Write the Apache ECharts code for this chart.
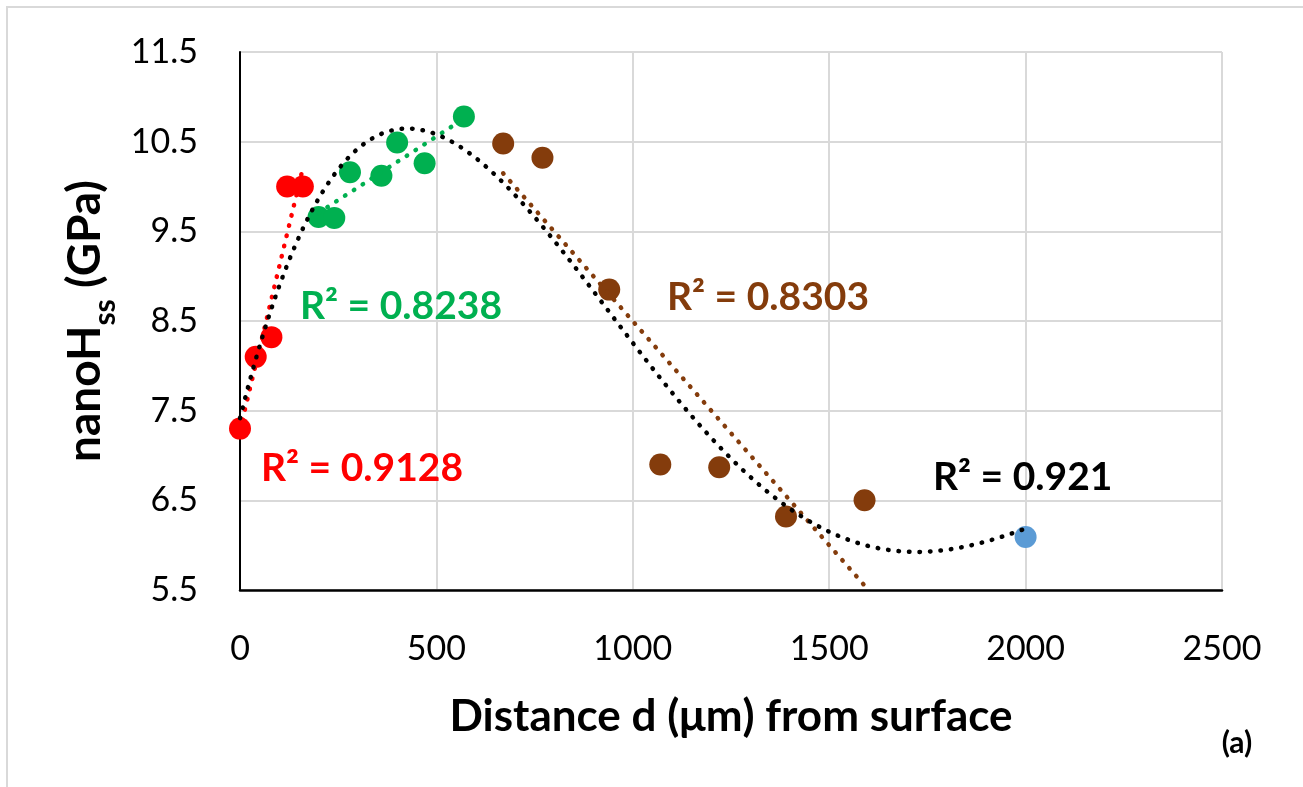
<!DOCTYPE html>
<html>
<head>
<meta charset="utf-8">
<script src="https://cdn.jsdelivr.net/npm/echarts@6/dist/echarts.min.js"></script>
<style>
  html, body { margin: 0; padding: 0; background: #fff; }
  #chart { width: 1303px; height: 787px; }
</style>
</head>
<body>
<div id="chart"></div>
<script>
// distance from surface (um) / nanoH_ss (GPa), one pair of arrays per fitted group
const redX = [0, 40, 80, 120, 160];
const redY = [7.3, 8.1, 8.32, 10.0, 10.0];
const greenX = [200, 240, 280, 360, 400, 470, 570];
const greenY = [9.66, 9.65, 10.16, 10.12, 10.49, 10.26, 10.78];
const brownX = [670, 770, 940, 1070, 1220, 1390, 1590];
const brownY = [10.48, 10.32, 8.85, 6.90, 6.87, 6.32, 6.50];
const blueX = [2000];
const blueY = [6.09];

const yTicks = [5.5, 6.5, 7.5, 8.5, 9.5, 10.5, 11.5];
const r2Text = ['R² = 0.9128', 'R² = 0.8238', 'R² = 0.8303', 'R² = 0.921'];

const FONT = 'Lato, "Open Sans", sans-serif';

// least squares polynomial fit (what the excel trendlines are)
function polyFit(xs, ys, order) {
    let n = order + 1;
    let A = [], b = [];
    for (let i = 0; i < n; i++) { A.push(new Array(n).fill(0)); b.push(0); }
    xs.forEach((x0, k) => {
        let x = x0 / 1000;
        for (let i = 0; i < n; i++) {
            b[i] += ys[k] * Math.pow(x, i);
            for (let j = 0; j < n; j++) A[i][j] += Math.pow(x, i + j);
        }
    });
    for (let c = 0; c < n; c++) {
        let p = c;
        for (let r = c + 1; r < n; r++) if (Math.abs(A[r][c]) > Math.abs(A[p][c])) p = r;
        [A[c], A[p]] = [A[p], A[c]];
        [b[c], b[p]] = [b[p], b[c]];
        for (let r = c + 1; r < n; r++) {
            let f = A[r][c] / A[c][c];
            for (let j = c; j < n; j++) A[r][j] -= f * A[c][j];
            b[r] -= f * b[c];
        }
    }
    let coef = new Array(n).fill(0);
    for (let r = n - 1; r >= 0; r--) {
        let s = b[r];
        for (let j = r + 1; j < n; j++) s -= A[r][j] * coef[j];
        coef[r] = s / A[r][r];
    }
    return x0 => coef.reduce((s, c, i) => s + c * Math.pow(x0 / 1000, i), 0);
}

function trend(xs, ys, order, step) {
    let f = polyFit(xs, ys, order);
    let lo = Math.min(...xs), hi = Math.max(...xs);
    let pts = [];
    if (!step) return [[lo, f(lo)], [hi, f(hi)]];
    for (let x = lo; x <= hi + 0.001; x += step) pts.push([x, f(x)]);
    return pts;
}

const pair = (xs, ys) => xs.map((x, i) => [x, ys[i]]);

const allX = [].concat(redX, greenX, brownX, blueX);
const allY = [].concat(redY, greenY, brownY, blueY);

function dots(name, color, data) {
    return {
        name: name, type: 'scatter', data: data,
        symbolSize: 22, itemStyle: { color: color, opacity: 1 }, z: 2
    };
}

function dotted(name, color, data) {
    return {
        name: name, type: 'line', data: data, showSymbol: false, silent: true,
        smooth: false, z: 3,
        lineStyle: { color: color, width: 4.5, type: [0.5, 10], cap: 'round' }
    };
}

function r2(text, color, x, y) {
    return {
        type: 'text', x: x, y: y, z: 10,
        style: { text: text, fill: color, font: 'bold 39px ' + FONT, verticalAlign: 'middle' }
    };
}

let chart = echarts.init(document.getElementById('chart'));

let option = {
    animation: false,
    backgroundColor: '#fff',
    textStyle: { fontFamily: FONT },
    grid: { left: 240, right: 81, top: 52, bottom: 197 },
    xAxis: {
        type: 'value', min: 0, max: 2500, interval: 500,
        name: 'Distance d (μm) from surface',
        nameLocation: 'middle', nameGap: 105,
        nameTextStyle: { fontSize: 44, fontWeight: 'bold', color: '#000', fontFamily: FONT },
        axisLine: { show: true, onZero: false, lineStyle: { color: '#000', width: 2.5 } },
        axisTick: { show: false },
        axisLabel: { fontSize: 34, color: '#000', margin: 42, fontFamily: FONT, formatter: v => String(v) },
        splitLine: { show: true, lineStyle: { color: '#d9d9d9', width: 2 } }
    },
    yAxis: {
        type: 'value', min: 5.5, max: 11.5,
        name: '{a|nanoH}{s|ss}{a| (GPa)}',
        nameLocation: 'middle', nameGap: 100, nameRotate: 90,
        nameTextStyle: {
            rich: {
                a: { fontSize: 46, fontWeight: 'bold', color: '#000', fontFamily: FONT },
                s: { fontSize: 30, fontWeight: 'bold', color: '#000', fontFamily: FONT, padding: [40, 0, 0, 0] }
            }
        },
        axisLine: { show: true, lineStyle: { color: '#000', width: 2 } },
        axisTick: { show: false, customValues: yTicks },
        axisLabel: { fontSize: 34, color: '#000', margin: 42, fontFamily: FONT, customValues: yTicks },
        splitLine: { show: true, lineStyle: { color: '#d9d9d9', width: 2 } }
    },
    graphic: [
        {
            type: 'rect', z: -1, silent: true,
            shape: { x: 7, y: 7, width: 1310, height: 800 },
            style: { fill: 'none', stroke: '#d9d9d9', lineWidth: 2 }
        },
        r2(r2Text[0], '#ff0000', 261, 468),
        r2(r2Text[1], '#00b050', 300, 306),
        r2(r2Text[2], '#843c0c', 667, 297),
        r2(r2Text[3], '#000000', 933, 477),
        {
            type: 'text', x: 1237, y: 743, z: 10,
            style: { text: '(a)', fill: '#000', font: 'bold 30px ' + FONT, align: 'center', verticalAlign: 'middle' }
        }
    ],
    series: [
        dots('red', '#ff0000', pair(redX, redY)),
        dots('green', '#00b050', pair(greenX, greenY)),
        dots('brown', '#843c0c', pair(brownX, brownY)),
        dots('blue', '#5b9bd5', pair(blueX, blueY)),
        dotted('red fit', '#ff0000', trend(redX, redY, 1)),
        dotted('green fit', '#00b050', trend(greenX, greenY, 1)),
        dotted('brown fit', '#843c0c', trend(brownX, brownY, 1)),
        dotted('poly fit', '#000000', trend(allX, allY, 4, 10))
    ]
};

chart.setOption(option);
</script>
</body>
</html>
